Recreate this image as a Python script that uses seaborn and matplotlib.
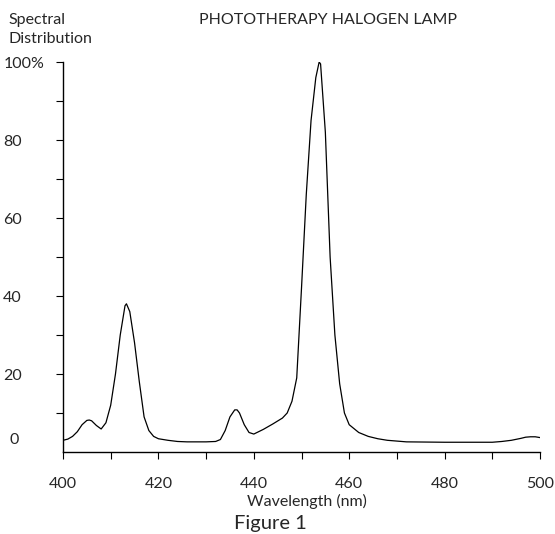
import matplotlib
matplotlib.use("Agg")
import matplotlib.pyplot as plt
import matplotlib.transforms as mtransforms
import seaborn as sns

# spectrum (nm, % of peak)
wavelength = [400, 401, 402, 403, 404, 405, 405.5, 406, 407, 408, 409, 410, 411, 412,
              413, 413.3, 414, 415, 416, 417, 418, 419, 420, 422, 424, 426, 428, 430,
              432, 433, 434, 435, 436, 436.5, 437, 438, 439, 440, 442, 444, 446, 447,
              448, 449, 450, 451, 452, 453, 453.7, 454, 455, 456, 457, 458, 459, 460,
              462, 464, 466, 468, 470, 472, 480, 490, 492, 494, 496, 497, 498, 499, 500]
intensity = [3.0, 3.3, 4.0, 5.2, 7.0, 8.1, 8.2, 8.0, 6.8, 5.9, 7.5, 12, 20, 30,
             37.5, 38, 36, 28, 18, 9, 5.5, 4.0, 3.4, 3.0, 2.7, 2.6, 2.6, 2.6,
             2.7, 3.2, 5.5, 9, 10.8, 10.8, 10, 7, 5, 4.6, 5.8, 7.2, 8.7, 10,
             13, 19, 42, 66, 85, 96, 100, 99.5, 82, 50, 30, 17.5, 10, 7,
             5, 4.0, 3.4, 3.0, 2.8, 2.6, 2.5, 2.5, 2.7, 3.0, 3.5, 3.8, 3.9, 3.9, 3.7]

x_ticks = [400, 420, 440, 460, 480, 500]
y_ticks = [20, 40, 60, 80, 100]
y_tick_labels = ["20", "40", "60", "80", "100%"]

sns.set_style("white")
plt.rcParams["font.family"] = ["Lato", "DejaVu Sans"]

W, H = 555, 534
fig = plt.figure(figsize=(W / 100, H / 100), dpi=100)
ax = fig.add_axes([63 / W, (H - 452) / H, (540 - 63) / W, (452 - 62) / H])

sns.lineplot(x=wavelength, y=intensity, ax=ax, color="black", linewidth=0.9)

ax.set_xlim(400, 500)
ax.set_ylim(0, 100)
sns.despine(ax=ax)
for s in ("left", "bottom"):
    ax.spines[s].set_color("black")
    ax.spines[s].set_linewidth(1.0)

ax.set_xticks(x_ticks)
ax.set_xticks(range(400, 501, 10), minor=True)
ax.set_yticks(y_ticks)
ax.set_yticklabels(y_tick_labels)
ax.set_yticks(range(10, 101, 10), minor=True)
ax.tick_params(which="both", bottom=True, left=True, direction="out",
               length=5, width=0.8, color="black")
ax.tick_params(axis="x", labelsize=11.5, pad=13)
ax.tick_params(axis="y", labelsize=11.5, pad=38)
for lab in ax.get_yticklabels():
    lab.set_horizontalalignment("left")

# the zero label sits just above the axis line
trans = mtransforms.blended_transform_factory(fig.transFigure, ax.transData)
ax.text(9 / W, 3, "0", transform=trans, ha="left", va="center", fontsize=11.5)

ax.set_xlabel("Wavelength (nm)", fontsize=11.5)
ax.xaxis.set_label_coords((307 - 63) / (540 - 63), -(501 - 452) / (452 - 62), transform=ax.transAxes)
ax.xaxis.label.set_verticalalignment("center")

fig.text(328 / W, 1 - 20 / H, "PHOTOTHERAPY HALOGEN LAMP", ha="center", va="center", fontsize=11.5)
fig.text(8 / W, 1 - 20 / H, "Spectral", ha="left", va="center", fontsize=11.5)
fig.text(8 / W, 1 - 39 / H, "Distribution", ha="left", va="center", fontsize=11.5)
fig.text(270 / W, 1 - 523 / H, "Figure 1", ha="center", va="center", fontsize=14.5)

fig.savefig("out.png", dpi=100)
